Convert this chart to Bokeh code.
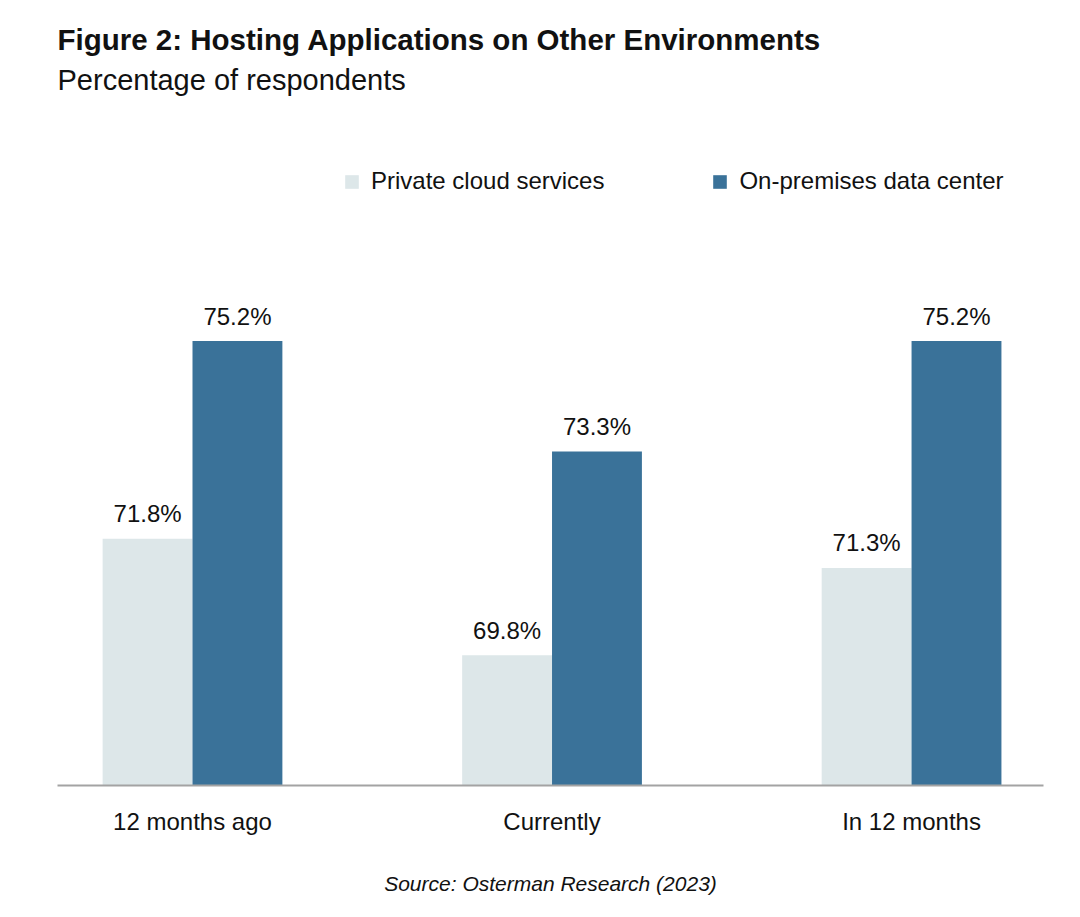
from bokeh.plotting import figure
from bokeh.models import Range1d, FixedTicker, Title, Legend, LegendItem, ColumnDataSource
from bokeh.embed import file_html
from bokeh.resources import INLINE
from bokeh.core.properties import value

categories = ["12 months ago", "Currently", "In 12 months"]
private_cloud = [71.8, 69.8, 71.3]
on_premises = [75.2, 73.3, 75.2]
series_names = ["Private cloud services", "On-premises data center"]

LIGHT = "#dde7e9"
DARK = "#3a7299"
FONT = "Liberation Sans"
TXT = "#111111"

idx = list(range(len(categories)))
src_a = ColumnDataSource(dict(x=[i - 0.125 for i in idx], y=private_cloud,
                              lab=[f"{v:.1f}%" for v in private_cloud]))
src_b = ColumnDataSource(dict(x=[i + 0.125 for i in idx], y=on_premises,
                              lab=[f"{v:.1f}%" for v in on_premises]))

p = figure(width=1064, height=909, output_backend="svg", toolbar_location=None,
           title=None, x_range=Range1d(-0.3755, 2.367), y_range=Range1d(67.56, 79.25),
           min_border_left=57, min_border_right=21, min_border_top=105, min_border_bottom=124)

base = 67.56
ra = p.vbar(x="x", top="y", bottom=base, width=0.25, source=src_a, fill_color=LIGHT, line_color=None)
rb = p.vbar(x="x", top="y", bottom=base, width=0.25, source=src_b, fill_color=DARK, line_color=None)

for s in (src_a, src_b):
    p.text(x="x", y="y", text="lab", source=s, text_align="center", text_baseline="alphabetic",
           y_offset=-25, text_font=value(FONT), text_font_size="24px", text_color=TXT)

legend = Legend(items=[LegendItem(label=series_names[0], renderers=[ra]),
                       LegendItem(label=series_names[1], renderers=[rb])],
                orientation="horizontal", location=(286, 590),
                glyph_width=17, glyph_height=17, label_standoff=11, spacing=107,
                padding=0, margin=0, border_line_color=None, background_fill_alpha=0,
                label_text_font=FONT, label_text_font_size="24px", label_text_color=TXT)
p.add_layout(legend, "center")

p.add_layout(Title(text="Percentage of respondents", align="left", text_font=FONT,
                   text_font_size="29px", text_font_style="normal", text_color=TXT,
                   standoff=19, offset=0), "above")
p.add_layout(Title(text="Figure 2: Hosting Applications on Other Environments", align="left",
                   text_font=FONT, text_font_size="29.5px", text_font_style="bold",
                   text_color=TXT, standoff=-7, offset=0), "above")

p.yaxis.visible = False
p.xgrid.visible = False
p.ygrid.visible = False
p.outline_line_color = None

ax = p.xaxis[0]
ax.ticker = FixedTicker(ticks=idx)
ax.major_label_overrides = {i: c for i, c in enumerate(categories)}
ax.major_tick_out = 0
ax.major_tick_in = 0
ax.minor_tick_out = 0
ax.minor_tick_in = 0
ax.axis_line_color = "#a3a3a3"
ax.axis_line_width = 2
ax.major_label_standoff = 22
ax.major_label_text_font = FONT
ax.major_label_text_font_size = "24px"
ax.major_label_text_color = TXT
ax.axis_label = "Source: Osterman Research (2023)"
ax.axis_label_text_font = FONT
ax.axis_label_text_font_size = "21px"
ax.axis_label_text_font_style = "italic"
ax.axis_label_text_color = TXT
ax.axis_label_standoff = 34

open("out.html", "w").write(file_html(p, INLINE))
